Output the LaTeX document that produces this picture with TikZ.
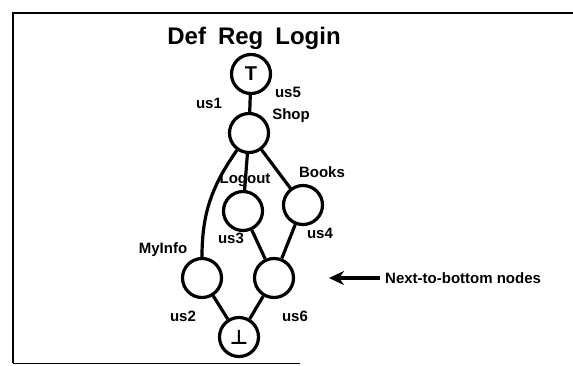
\documentclass[tikz,border=0pt]{standalone}
\usepackage{fontspec}
\setmainfont{Liberation Sans}
\newfontfamily\symfont{DejaVu Sans}
\usetikzlibrary{positioning,arrows.meta}
\tikzset{
  lat/.style   ={circle, draw, line width=3.2pt, minimum size=39pt, inner sep=0pt,
                 font=\bfseries\fontsize{20}{20}\selectfont},
  edge/.style  ={draw, line width=3.2pt},
  lab/.style   ={font=\bfseries\fontsize{15}{15}\selectfont, inner sep=1pt},
  frame/.style ={line width=2.6pt},
  >=Stealth,
}
\begin{document}
\begin{tikzpicture}[x=1pt,y=-1pt]
\useasboundingbox (0,0) rectangle (573,365);
% frame (open on the right)
\draw[frame] (590,13) -- (13,13) -- (13,363);
\draw[line width=1pt] (13,363) -- (300,363);
\node[font=\bfseries\fontsize{24}{24}\selectfont] (title) at (254,38) {Def\hspace{0.5em}Reg\hspace{0.5em}Login};
% the lattice
\node[lat] (top)    at (251,74)  {T};
\node[lat] (shop)   at (249,133) {};
\node[lat] (logout) at (243,211) {};
\node[lat] (books)  at (303,205) {};
\node[lat] (myinfo) at (202,278) {};
\node[lat] (nb)     at (274,278) {};
\node[lat] (bot)    at (239,337) {\symfont\bfseries ⊥};
\foreach \a/\b in {top/shop, shop/logout, shop/books, logout/nb, books/nb,
                   myinfo/bot, nb/bot}
  {\draw[edge] (\a) -- (\b);}
\draw[edge] (shop) to[out=235,in=90] (myinfo);
% labels
\node[lab] (us1) at (209,103) {us1};
\node[lab] (us5) at (288,92)  {us5};
\node[lab] (lshop) at (291,116) {Shop};
\node[lab] (llogout) at (245,180) {Logout};
\node[lab] (lbooks) at (322,172) {Books};
\node[lab] (us3) at (231,238) {us3};
\node[lab] (us4) at (320,233) {us4};
\node[lab] (lmyinfo) at (163,250) {MyInfo};
\node[lab] (us2) at (183,316) {us2};
\node[lab] (us6) at (295,316) {us6};
% pointer to the next-to-bottom nodes
\node[lab,anchor=west] (ntb) at (384,278) {Next-to-bottom nodes};
\coordinate (tip) at (329,278);
\draw[line width=3.4pt,-{Stealth[length=15pt,width=14pt]}] ([xshift=-4pt]ntb.west) -- (tip);
\end{tikzpicture}
\end{document}
